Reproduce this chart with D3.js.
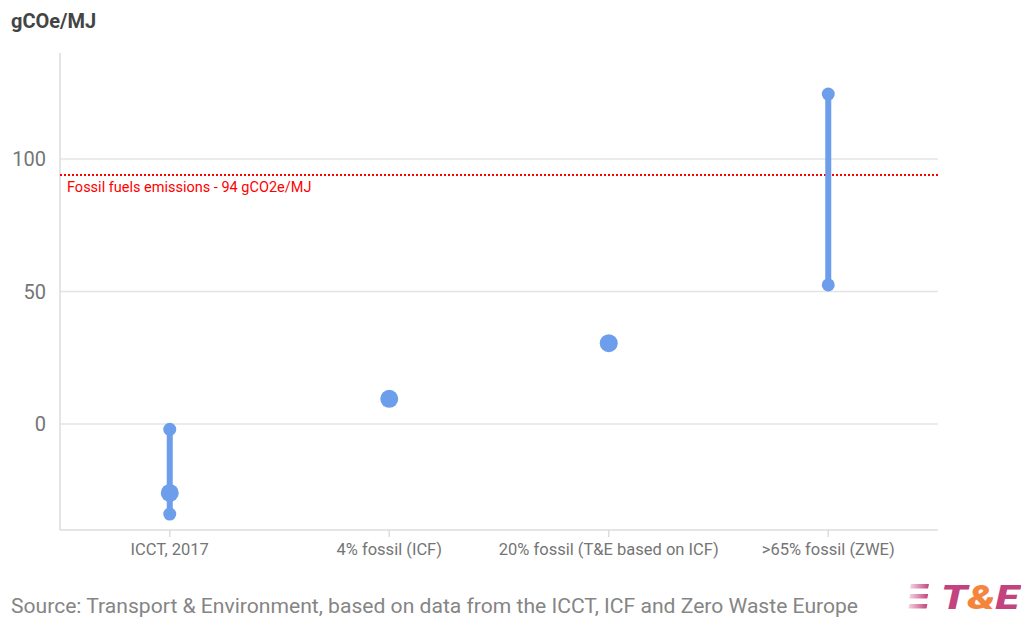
<!DOCTYPE html>
<html>
<head>
<meta charset="utf-8">
<script src="https://cdn.jsdelivr.net/npm/d3@7"></script>
<style>
  html, body { margin: 0; padding: 0; background: #fff; }
  svg { display: block; font-family: Roboto, "Noto Sans", Arial, sans-serif; }
</style>
</head>
<body>
<svg id="chart" width="1021" height="617"></svg>
<script>
// Categories along the x axis
const categories = ["ICCT, 2017", "4% fossil (ICF)", "20% fossil (T&E based on ICF)", ">65% fossil (ZWE)"];
// Central estimate per category (null where only a range is given)
const centralValues = [-26, 9.5, 30.5, null];
// Range low / high per category (null where no range)
const rangeLow = [-34, null, null, 52.5];
const rangeHigh = [-2, null, null, 124.5];
// Y axis ticks
const yTicks = [0, 50, 100];
// Fossil fuel reference level
const fossilReference = 94;
const fossilLabel = "Fossil fuels emissions - 94 gCO2e/MJ";

const svg = d3.select("#chart");
const margin = { left: 60, right: 83, top: 53, bottom: 87 };
const W = 1021, H = 617;

const x = d3.scaleBand().domain(categories).range([margin.left, W - margin.right]);
const y = d3.scaleLinear().domain([-40, 140]).range([H - margin.bottom, margin.top]);

const blue = "#6d9eeb";

// Title (unit)
svg.append("text")
  .attr("x", 11).attr("y", 28)
  .attr("font-size", 20).attr("font-weight", "bold").attr("fill", "#444")
  .text("gCOe/MJ");

// Horizontal gridlines
svg.append("g").selectAll("line").data(yTicks).join("line")
  .attr("x1", margin.left).attr("x2", W - margin.right)
  .attr("y1", d => y(d)).attr("y2", d => y(d))
  .attr("stroke", "#e4e4e4").attr("stroke-width", 1.5);

// Y axis labels
svg.append("g").selectAll("text").data(yTicks).join("text")
  .attr("x", 46).attr("y", d => y(d)).attr("dy", "0.36em")
  .attr("text-anchor", "end").attr("font-size", 20).attr("fill", "#757575")
  .text(d => d);

// Left axis line and baseline
svg.append("line")
  .attr("x1", margin.left).attr("x2", margin.left)
  .attr("y1", margin.top).attr("y2", y(-40))
  .attr("stroke", "#dcdcdc").attr("stroke-width", 1.5);
svg.append("line")
  .attr("x1", margin.left).attr("x2", W - margin.right)
  .attr("y1", y(-40)).attr("y2", y(-40))
  .attr("stroke", "#dcdcdc").attr("stroke-width", 1.5);

// X axis ticks and labels
const xg = svg.append("g");
categories.forEach(c => {
  const cx = x(c) + x.bandwidth() / 2;
  xg.append("line").attr("x1", cx).attr("x2", cx)
    .attr("y1", y(-40)).attr("y2", y(-40) + 7)
    .attr("stroke", "#dcdcdc").attr("stroke-width", 1.5);
  xg.append("text").attr("x", cx).attr("y", 555)
    .attr("text-anchor", "middle").attr("font-size", 16.5).attr("fill", "#757575")
    .text(c);
});

// Fossil reference line
svg.append("line")
  .attr("x1", margin.left).attr("x2", W - margin.right)
  .attr("y1", y(fossilReference)).attr("y2", y(fossilReference))
  .attr("stroke", "#ff0000").attr("stroke-width", 2).attr("stroke-dasharray", "2,2");
svg.append("text")
  .attr("x", 67).attr("y", y(fossilReference) + 17)
  .attr("font-size", 14.5).attr("fill", "#ff0000")
  .text(fossilLabel);

// Range bars
const marks = svg.append("g");
categories.forEach((c, i) => {
  const cx = x(c) + x.bandwidth() / 2;
  if (rangeLow[i] != null) {
    marks.append("line").attr("x1", cx).attr("x2", cx)
      .attr("y1", y(rangeLow[i])).attr("y2", y(rangeHigh[i]))
      .attr("stroke", blue).attr("stroke-width", 6);
    [rangeLow[i], rangeHigh[i]].forEach(v => {
      marks.append("circle").attr("cx", cx).attr("cy", y(v)).attr("r", 6.5).attr("fill", blue);
    });
  }
  if (centralValues[i] != null) {
    marks.append("circle").attr("cx", cx).attr("cy", y(centralValues[i])).attr("r", 9).attr("fill", blue);
  }
});

// Source note
svg.append("text")
  .attr("x", 11).attr("y", 613)
  .attr("font-size", 21.1).attr("fill", "#858585")
  .text("Source: Transport & Environment, based on data from the ICCT, ICF and Zero Waste Europe");

// T&E logo
const grad = svg.append("defs").append("linearGradient").attr("id", "stripe")
  .attr("x1", "0").attr("x2", "1");
grad.append("stop").attr("offset", "0").attr("stop-color", "#f6d3e1");
grad.append("stop").attr("offset", "1").attr("stop-color", "#c2437e");
const logo = svg.append("g");
[584, 594, 604].forEach((sy, k) => {
  const dx = k * 0.8;
  logo.append("polygon")
    .attr("points", `${911 - dx},${sy} ${929 - dx},${sy} ${928 - dx},${sy + 4.5} ${910 - dx},${sy + 4.5}`)
    .attr("fill", "url(#stripe)");
});
const lt = logo.append("text").attr("x", 941).attr("y", 609)
  .attr("font-size", 34).attr("font-weight", "900").attr("font-style", "italic")
  .attr("font-family", "Roboto, Arial, sans-serif")
  .attr("textLength", 78).attr("lengthAdjust", "spacingAndGlyphs");
lt.append("tspan").attr("fill", "#c2437e").text("T");
lt.append("tspan").attr("fill", "#f5843c").text("&");
lt.append("tspan").attr("fill", "#c2437e").text("E");
</script>
</body>
</html>
